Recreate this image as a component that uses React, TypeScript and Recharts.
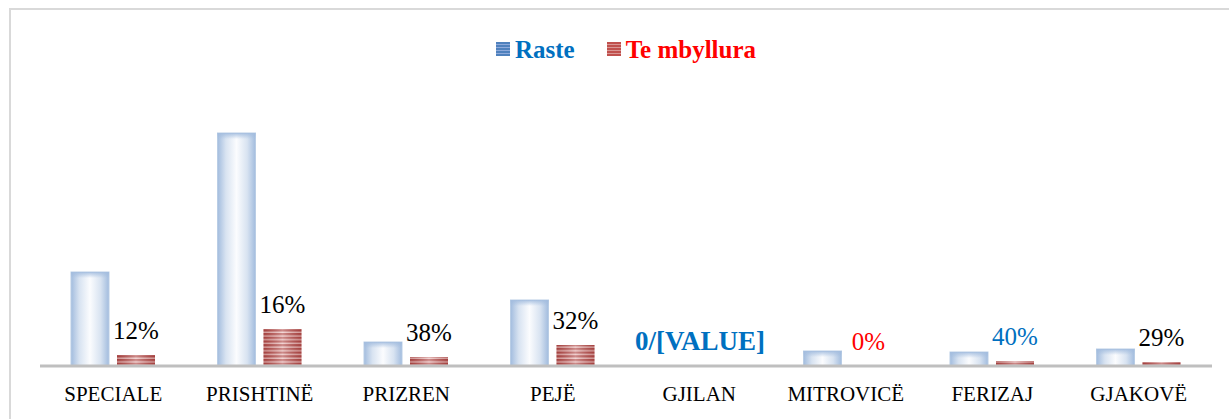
import { Bar, BarChart, LabelList, Legend, XAxis, YAxis } from "recharts";

// values (bar heights, no value axis shown)
const categories = ["SPECIALE", "PRISHTINË", "PRIZREN", "PEJË", "GJILAN", "MITROVICË", "FERIZAJ", "GJAKOVË"];
const raste = [94, 233, 24, 66, 0, 15, 14, 17];
const teMbyllura = [11, 37, 9, 21, 0, 0, 5, 4];
const shareLabels = ["12%", "16%", "38%", "32%", "0/[VALUE]", "0%", "40%", "29%"];

const data = categories.map((name, i) => ({
  name,
  raste: raste[i],
  mbyllura: teMbyllura[i],
  share: shareLabels[i],
}));

const serif = "Liberation Serif, Tinos, Times New Roman, DejaVu Serif, serif";

// a few labels in the original are coloured / bold
const labelLook: Record<string, { fill: string; weight?: number; dx?: number; size?: number }> = {
  "0/[VALUE]": { fill: "#0070C0", weight: 700, dx: -22, size: 27 },
  "0%": { fill: "#FF0000" },
  "40%": { fill: "#0070C0" },
};

function RasteShape(props: any) {
  const { x, y, width, height } = props;
  if (!height || height <= 0) return null;
  return (
    <g>
      <rect x={x} y={y} width={width} height={height} fill="url(#rasteFill)" stroke="#b9cde5" strokeWidth={1} />
      <rect x={x} y={y} width={width} height={Math.min(6, height)} fill="url(#rasteTop)" />
    </g>
  );
}

function MbyllShape(props: any) {
  const { x, y, width, height } = props;
  if (!height || height <= 0) return null;
  return (
    <g>
      <rect x={x} y={y} width={width} height={height} fill="url(#redStripes)" />
      <rect x={x} y={y} width={width} height={height} fill="url(#redSheen)" />
    </g>
  );
}

function ShareLabel(props: any) {
  const { x, y, width, value } = props;
  const look = labelLook[value] ?? { fill: "#000" };
  return (
    <text
      x={x + width / 2 + (look.dx ?? 0)}
      y={y - 16}
      textAnchor="middle"
      fill={look.fill}
      style={{ fontFamily: serif, fontSize: look.size ?? 25, fontWeight: look.weight ?? 400 }}
    >
      {value}
    </text>
  );
}

function CategoryTick(props: any) {
  const { x, y, payload } = props;
  return (
    <text x={x} y={y + 35} textAnchor="middle" fill="#000" style={{ fontFamily: serif, fontSize: 21 }}>
      {payload.value}
    </text>
  );
}

function LegendBox() {
  const square = (a: string, b: string) => ({
    display: "inline-block",
    width: 14,
    height: 14,
    marginRight: 5,
    background: `repeating-linear-gradient(to bottom, ${a} 0 2px, ${b} 2px 3px)`,
  });
  return (
    <div
      style={{
        height: 36,
        boxSizing: "border-box",
        paddingTop: 2,
        lineHeight: "25px",
        display: "flex",
        justifyContent: "center",
        alignItems: "center",
        fontFamily: serif,
        fontSize: 25,
        fontWeight: 700,
        gap: 32,
      }}
    >
      <span style={{ display: "flex", alignItems: "center", color: "#0070C0" }}>
        <span style={square("#4f81bd", "#8eaadb")} />
        Raste
      </span>
      <span style={{ display: "flex", alignItems: "center", color: "#FF0000" }}>
        <span style={square("#c0504d", "#d99694")} />
        Te mbyllura
      </span>
    </div>
  );
}

export default function App() {
  return (
    <div style={{ position: "fixed", left: 0, top: 0, width: 1229, height: 419, overflow: "hidden", background: "#fff" }}>
      <div
        style={{
          position: "absolute",
          left: 9,
          top: 8,
          width: 1400,
          height: 600,
          borderLeft: "2px solid #d9d9d9",
          borderTop: "2px solid #d9d9d9",
        }}
      />
      <div style={{ position: "absolute", left: 0, top: 0 }}>
        <BarChart
          width={1229}
          height={419}
          data={data}
          margin={{ top: 30, right: 17, left: 40, bottom: 23 }}
          barSize={38}
          barGap={8}
          style={{ fontFamily: serif }}
        >
          <defs>
            <linearGradient id="rasteFill" x1="0" y1="0" x2="1" y2="0">
              <stop offset="0" stopColor="#a2bcde" />
              <stop offset="0.22" stopColor="#d8e3f1" />
              <stop offset="0.5" stopColor="#fbfcfe" />
              <stop offset="0.78" stopColor="#d8e3f1" />
              <stop offset="1" stopColor="#a2bcde" />
            </linearGradient>
            <linearGradient id="rasteTop" x1="0" y1="0" x2="0" y2="1">
              <stop offset="0" stopColor="#a2bcde" stopOpacity={0.9} />
              <stop offset="1" stopColor="#a2bcde" stopOpacity={0} />
            </linearGradient>
            <pattern id="redStripes" patternUnits="userSpaceOnUse" width={8} height={3.7}>
              <rect x={0} y={0} width={8} height={3.7} fill="#b24c4a" />
              <rect x={0} y={2.3} width={8} height={1.4} fill="#efc6c5" />
            </pattern>
            <linearGradient id="redSheen" x1="0" y1="0" x2="1" y2="0">
              <stop offset="0" stopColor="#7a1e1c" stopOpacity={0.25} />
              <stop offset="0.5" stopColor="#ffffff" stopOpacity={0.35} />
              <stop offset="1" stopColor="#7a1e1c" stopOpacity={0.25} />
            </linearGradient>
          </defs>
          <Legend verticalAlign="top" align="center" content={() => <LegendBox />} />
          <XAxis
            dataKey="name"
            axisLine={{ stroke: "#bfbfbf", strokeWidth: 3 }}
            tickLine={false}
            tickSize={0}
            tickMargin={0}
            tick={<CategoryTick />}
            interval={0}
          />
          <YAxis hide domain={[0, 300]} />
          <Bar dataKey="raste" shape={<RasteShape />} isAnimationActive={false} />
          <Bar dataKey="mbyllura" shape={<MbyllShape />} isAnimationActive={false}>
            <LabelList dataKey="share" content={<ShareLabel />} />
          </Bar>
        </BarChart>
      </div>
    </div>
  );
}
